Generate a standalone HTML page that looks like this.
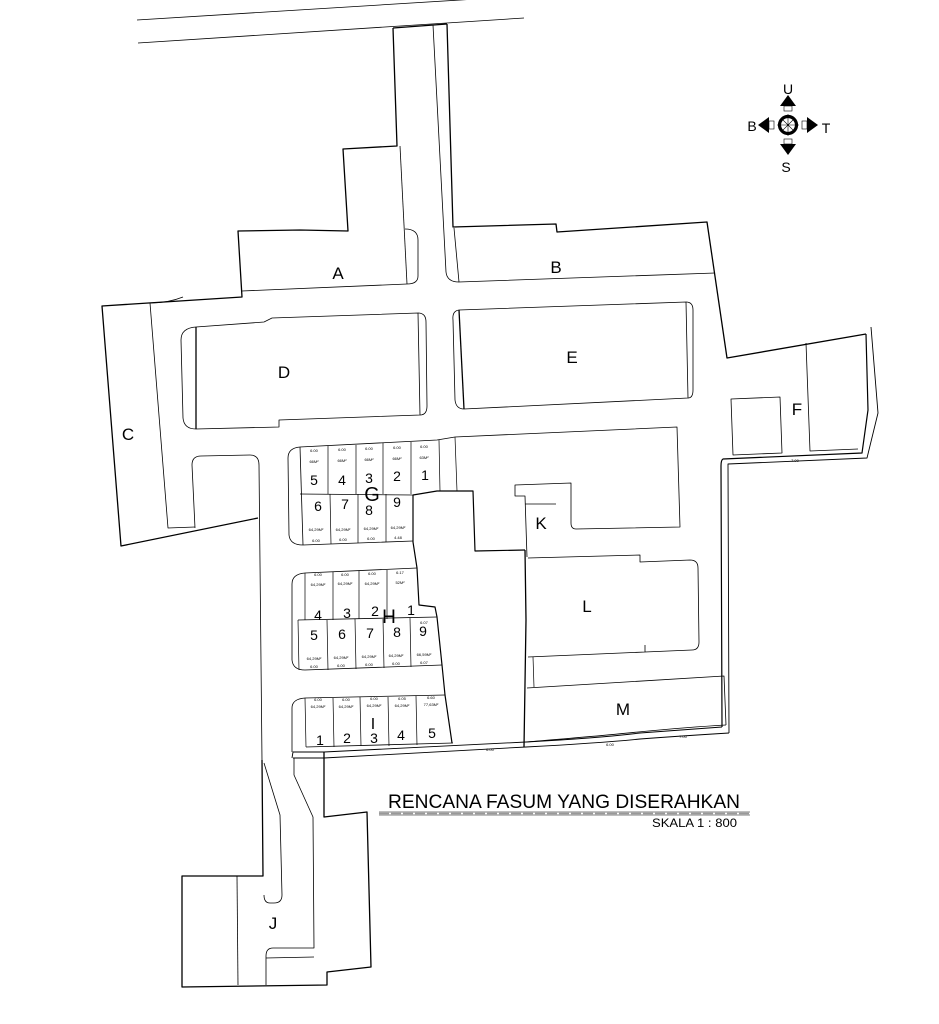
<!DOCTYPE html>
<html><head><meta charset="utf-8"><style>
html,body{margin:0;padding:0;background:#fff;}
svg{display:block;}
text{font-family:"Liberation Sans",sans-serif;fill:#000;}
.t{font-size:4px;}
</style></head><body>
<svg width="939" height="1024" viewBox="0 0 939 1024" xmlns="http://www.w3.org/2000/svg">
<g fill="none" stroke="#000" stroke-linejoin="round">
<path d="M137,20 L525,-4" stroke-width="0.8"/>
<path d="M138,43 L524,18" stroke-width="0.8"/>
<path d="M393,28 L397,146 L343,149 L348,231 L300,230 L238,231 L242,297 L102,306 L121,546 L258,518" stroke-width="1.3"/>
<path d="M393,28 L447,24" stroke-width="1.3"/>
<path d="M400,146 L407,284" stroke-width="0.8"/>
<path d="M405,229 Q418,229 418,240 L418,276 Q418,284 407,284" stroke-width="0.8"/>
<path d="M242,291 L407,284" stroke-width="0.8"/>
<path d="M150,303 L168,528 L195,527" stroke-width="0.8"/>
<path d="M150,303 Q168,303 183,297" stroke-width="0.8"/>
<path d="M433,25 L446,272 Q447,282 459,282" stroke-width="0.8"/>
<path d="M447,24 L453,227 L556,224 L557,232 L707,222 L727,358 L866,334" stroke-width="1.3"/>
<path d="M454,228 L459,282 L715,273" stroke-width="0.8"/>
<path d="M196,327 L196,429" stroke-width="1.3"/>
<path d="M196,327 L264,322 L272,318 L418,313 L420,415 L279,420 L279,427 L196,429" stroke-width="0.8"/>
<path d="M196,327 Q181,328 181,340 L183,418 Q184,429 196,429" stroke-width="0.8"/>
<path d="M418,313 Q426,313 426,322 L427,406 Q427,415 420,415" stroke-width="0.8"/>
<path d="M459,310 L464,409" stroke-width="1.3"/>
<path d="M459,310 L686,302 L688,398 L464,409" stroke-width="0.8"/>
<path d="M459,310 Q452,311 453,320 L455,400 Q456,409 464,409" stroke-width="0.8"/>
<path d="M686,302 Q693,302 693,310 L693,390 Q693,398 688,398" stroke-width="0.8"/>
<path d="M866,334 L868,410 L862,453 L723,459 Q721,460 721,466 L722,727" stroke-width="1.2"/>
<path d="M871,327 L878,413 L867,458 L728,464 L729,733" stroke-width="0.9"/>
<path d="M806,343 L810,451 L858,449" stroke-width="0.8"/>
<path d="M731,399 L780,397 L782,453 L733,455 Z" stroke-width="0.8"/>
<path d="M195,528 L192,465 Q192,456 201,456 L250,455 Q259,455 259,465 L262,760" stroke-width="0.8"/>
<path d="M300,447 L437,440 L455,437 L677,427 L680,527 L576,529 Q571,529 571,523 L571,483 L515,485 L515,496 L525,496 L527,557" stroke-width="0.8"/>
<path d="M300,447 Q288,448 288,458 L289,535 Q290,545 303,545 L413,541" stroke-width="0.8"/>
<path d="M300,447 L303,545" stroke-width="0.8"/>
<path d="M328,446 L328,494 M356,445 L356,494 M383,443 L383,494 M411,442 L411,494 M439,440 L440,491 M455,437 L457,491" stroke-width="0.7"/>
<path d="M330,494 L331,544 M358,494 L358,543 M386,494 L386,542" stroke-width="0.7"/>
<path d="M300,494 L413,495" stroke-width="0.7"/>
<path d="M413,495 L437,491 L473,491 L475,551 L525,550" stroke-width="1.2"/>
<path d="M525,504 L556,504" stroke-width="0.7"/>
<path d="M525,550 L526,620 L524,747" stroke-width="1.3"/>
<path d="M413,495 L413,542 L417,568 L419,605 L435,607 L437,617 L442,665 L445,695 L452,743" stroke-width="1.2"/>
<path d="M305,573 L417,568" stroke-width="0.8"/>
<path d="M305,573 Q292,574 292,584 L292,660 Q293,670 305,670 L442,665" stroke-width="0.8"/>
<path d="M298,620 L437,617" stroke-width="0.8"/>
<path d="M305,573 L305,620 M333,572 L333,620 M359,571 L359,619 M387,570 L387,619" stroke-width="0.7"/>
<path d="M298,620 L299,670 M327,620 L328,670 M355,619 L356,669 M383,619 L384,668 M410,618 L411,667" stroke-width="0.7"/>
<path d="M305,698 L445,695" stroke-width="0.8"/>
<path d="M305,698 Q292,699 292,708 L292,752" stroke-width="0.8"/>
<path d="M305,698 L306,747 M333,698 L334,747 M360,697 L361,746 M388,697 L389,746 M416,696 L417,745" stroke-width="0.7"/>
<path d="M306,747 L453,743" stroke-width="0.8"/>
<path d="M528,558 L640,555 L640,562 L690,560 Q698,560 698,568 L699,642 Q699,650 692,650 L645,652 L645,645 M645,652 L528,657" stroke-width="0.8"/>
<path d="M533,657 L534,687" stroke-width="0.7"/>
<path d="M527,688 L724,676 L726,725" stroke-width="0.8"/>
<path d="M526,742 Q600,736 638,732 Q690,727 726,725" stroke-width="0.8"/>
<path d="M722,727 Q680,730 640,733 Q600,738 526,742 L324,752 L293,752 L292,758" stroke-width="0.9"/>
<path d="M729,733 Q680,736 640,739 Q600,743 526,747 L324,758 L293,758" stroke-width="0.9"/>
<path d="M262,760 L263,876 L182,876 L182,987 L327,985 L327,972 L371,967 L367,812 L324,817 L324,752" stroke-width="1.3"/>
<path d="M237,876 L238,985" stroke-width="0.8"/>
<path d="M294,758 L294,775 L313,817 L314,948 L273,948 Q266,948 266,956 L266,985" stroke-width="0.8"/>
<path d="M266,958 L314,957" stroke-width="0.7"/>
<path d="M264,763 L280,815 L282,895 Q282,903 274,903 L270,903 Q264,903 264,895" stroke-width="0.8"/>
<path d="M379,812 L750,812 M379,815 L750,815" stroke-width="0.6"/>
<path d="M379,813.5 L750,813.5" stroke-width="1.5" stroke-dasharray="10,2" stroke="#999"/>
</g>
<g>
<circle cx="788" cy="125" r="8.5" fill="none" stroke="#000" stroke-width="3.2"/>
<path d="M781,118 L795,132 M795,118 L781,132 M788,114 L788,136 M777,125 L799,125" stroke="#000" stroke-width="0.6"/>
<path d="M788,95 L780,106 L796,106 Z M788,155 L780,144 L796,144 Z M758,125 L769,117 L769,133 Z M818,125 L807,117 L807,133 Z" fill="#000"/>
<rect x="784" y="106" width="8" height="5" fill="#fff" stroke="#000" stroke-width="0.6"/>
<rect x="784" y="139" width="8" height="5" fill="#fff" stroke="#000" stroke-width="0.6"/>
<rect x="769" y="121" width="5" height="8" fill="#fff" stroke="#000" stroke-width="0.6"/>
<rect x="802" y="121" width="5" height="8" fill="#fff" stroke="#000" stroke-width="0.6"/>
<text x="788" y="94" font-size="14" text-anchor="middle">U</text>
<text x="752" y="131" font-size="14" text-anchor="middle">B</text>
<text x="826" y="133" font-size="14" text-anchor="middle">T</text>
<text x="786" y="172" font-size="14" text-anchor="middle">S</text>
</g>
<g font-size="17" text-anchor="middle">
<text x="338" y="279">A</text>
<text x="556" y="273">B</text>
<text x="128" y="440">C</text>
<text x="284" y="378">D</text>
<text x="572" y="363">E</text>
<text x="797" y="415">F</text>
<text x="372" y="501" font-size="20">G</text>
<text x="541" y="529">K</text>
<text x="587" y="612">L</text>
<text x="623" y="715">M</text>
<text x="273" y="929">J</text>
<text x="389" y="623" font-size="19">H</text>
<text x="373" y="729" font-size="16">I</text>
</g>
<g font-size="14" text-anchor="middle">
<text x="314" y="485">5</text><text x="342" y="485">4</text><text x="369" y="483">3</text><text x="397" y="481">2</text><text x="425" y="480">1</text>
<text x="318" y="511">6</text><text x="345" y="509">7</text><text x="369" y="515">8</text><text x="397" y="507">9</text>
<text x="318" y="620">4</text><text x="347" y="618">3</text><text x="375" y="616">2</text><text x="411" y="615">1</text>
<text x="314" y="640">5</text><text x="342" y="639">6</text><text x="370" y="638">7</text><text x="397" y="637">8</text><text x="423" y="636">9</text>
<text x="320" y="745">1</text><text x="347" y="743">2</text><text x="374" y="743">3</text><text x="401" y="740">4</text><text x="432" y="738">5</text>
</g>
<g class="t" text-anchor="middle">
<text x="314" y="452">6.00</text><text x="342" y="451">6.00</text><text x="369" y="450">6.00</text><text x="397" y="449">6.00</text><text x="424" y="448">6.00</text>
<text x="314" y="463">66M²</text><text x="342" y="462">66M²</text><text x="369" y="461">66M²</text><text x="397" y="460">66M²</text><text x="424" y="459">63M²</text>
<text x="316" y="531">64,29M²</text><text x="343" y="531">64,29M²</text><text x="371" y="530">64,29M²</text><text x="398" y="529">64,29M²</text>
<text x="316" y="542">6.00</text><text x="343" y="541">6.00</text><text x="371" y="540">6.00</text><text x="398" y="539">4.48</text>
<text x="318" y="576">6.00</text><text x="345" y="576">6.00</text><text x="372" y="575">6.00</text><text x="400" y="574">6.17</text>
<text x="318" y="586">64,29M²</text><text x="345" y="585">64,29M²</text><text x="372" y="585">64,29M²</text><text x="400" y="584">52M²</text>
<text x="314" y="660">64,29M²</text><text x="341" y="659">64,29M²</text><text x="369" y="658">64,29M²</text><text x="396" y="657">64,29M²</text><text x="424" y="656">66,59M²</text>
<text x="314" y="668">6.00</text><text x="341" y="667">6.00</text><text x="369" y="666">6.00</text><text x="396" y="665">6.00</text><text x="424" y="664">6.07</text>
<text x="424" y="624">6.07</text>
<text x="318" y="701">6.00</text><text x="346" y="701">6.00</text><text x="374" y="700">6.00</text><text x="402" y="700">6.05</text><text x="431" y="699">6.60</text>
<text x="318" y="708">64,29M²</text><text x="346" y="708">64,29M²</text><text x="374" y="707">64,29M²</text><text x="402" y="707">64,29M²</text><text x="431" y="706">77,63M²</text>
<text x="490" y="751">6.00</text><text x="610" y="746">6.00</text><text x="683" y="738">7.00</text><text x="795" y="462">7.00</text>
</g>
<text x="388" y="808" font-size="19.5" textLength="352" lengthAdjust="spacingAndGlyphs">RENCANA FASUM YANG DISERAHKAN</text>
<text x="652" y="827" font-size="12" textLength="85" lengthAdjust="spacingAndGlyphs">SKALA 1 : 800</text>
</svg>
</body></html>
